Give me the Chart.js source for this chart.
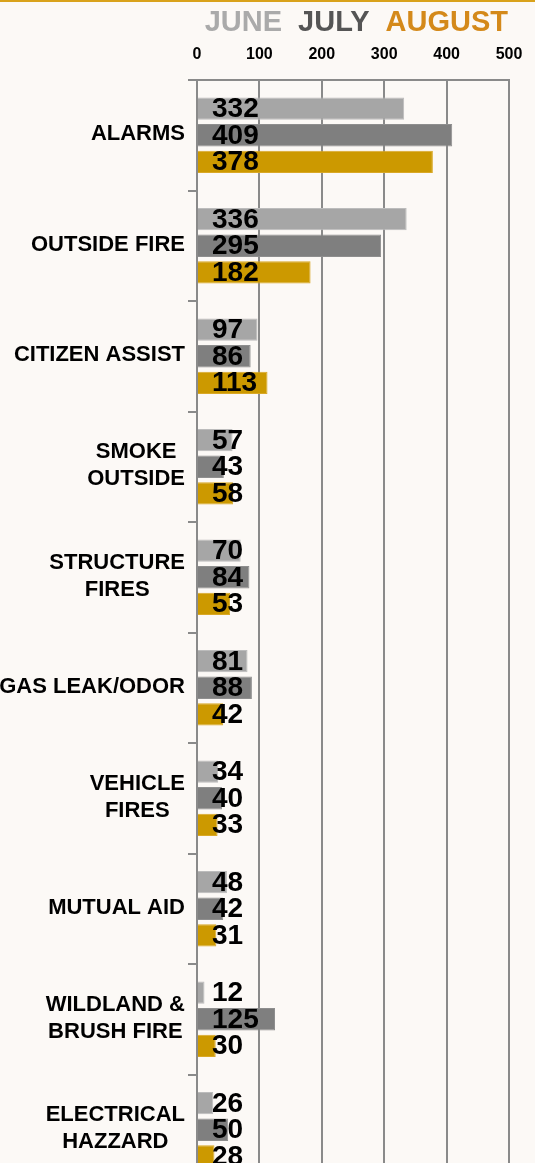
<!DOCTYPE html>
<html>
<head>
<meta charset="utf-8">
<script src="https://cdn.jsdelivr.net/npm/chart.js@4"></script>
<style>
    html, body { margin: 0; padding: 0; background: #fcf9f6; overflow: hidden; }
    #wrap { position: relative; width: 535px; height: 1185px; border-top: 2px solid #d9a21b; box-sizing: border-box; }
    #legend { position: absolute; top: 5px; right: 27px; font: bold 29px "Liberation Sans", Arial, sans-serif; line-height: 29px; white-space: nowrap; }
    #legend span { margin-left: 16px; }
    canvas { position: absolute; left: 0; top: 0; }
</style>
</head>
<body>
<div id="wrap">
    <canvas id="grafico" width="535" height="1183"></canvas>
    <div id="legend">
        <span style="color:#aaaaaa">JUNE</span><span style="color:#555555">JULY</span><span style="color:#d4891a">AUGUST</span>
    </div>
</div>
<script>
const categories = [
    ['ALARMS'],
    ['OUTSIDE FIRE'],
    ['CITIZEN ASSIST'],
    ['SMOKE', 'OUTSIDE'],
    ['STRUCTURE', 'FIRES'],
    ['GAS LEAK/ODOR'],
    ['VEHICLE', 'FIRES'],
    ['MUTUAL AID'],
    ['WILDLAND &', 'BRUSH FIRE'],
    ['ELECTRICAL', 'HAZZARD']
];
const june = [332, 336, 97, 57, 70, 81, 34, 48, 12, 26];
const july = [409, 295, 86, 43, 84, 88, 40, 42, 125, 50];
const august = [378, 182, 113, 58, 53, 42, 33, 31, 30, 28];
const xTicks = [0, 100, 200, 300, 400, 500];

const fontFamily = '"Liberation Sans", Arial, sans-serif';

// etiquetas das categorias (linhas centradas, bloco alinhado à direita)
const categoryLabels = {
    id: 'categoryLabels',
    afterDraw(chart) {
        const ctx = chart.ctx;
        const yScale = chart.scales.y;
        ctx.save();
        ctx.font = 'bold 22px ' + fontFamily;
        ctx.fillStyle = '#000';
        ctx.textAlign = 'center';
        ctx.textBaseline = 'middle';
        categories.forEach(function (lines, i) {
            const y = yScale.getPixelForValue(i) - 1;
            const w = Math.max.apply(null, lines.map(l => ctx.measureText(l).width));
            const cx = 185 - w / 2;
            const lh = 27;
            lines.forEach(function (line, k) {
                ctx.fillText(line, cx, y + (k - (lines.length - 1) / 2) * lh);
            });
        });
        ctx.restore();
    }
};

// valores em cima das barras
const valueLabels = {
    id: 'valueLabels',
    afterDatasetsDraw(chart) {
        const ctx = chart.ctx;
        const x0 = chart.scales.x.getPixelForValue(0);
        ctx.save();
        ctx.font = 'bold 28px ' + fontFamily;
        ctx.fillStyle = '#000';
        ctx.textAlign = 'left';
        ctx.textBaseline = 'middle';
        chart.data.datasets.forEach(function (ds, d) {
            const meta = chart.getDatasetMeta(d);
            meta.data.forEach(function (bar, i) {
                ctx.fillText(String(ds.data[i]), x0 + 15, bar.y + 1);
            });
        });
        ctx.restore();
    }
};

new Chart(document.getElementById('grafico'), {
    type: 'bar',
    data: {
        labels: categories.map(c => c.join(' ')),
        datasets: [
            { label: 'JUNE', data: june, backgroundColor: '#a6a6a6', borderColor: '#bcbcbc', borderWidth: 1 },
            { label: 'JULY', data: july, backgroundColor: '#7f7f7f', borderColor: '#8e8e8e', borderWidth: 1 },
            { label: 'AUGUST', data: august, backgroundColor: '#cc9900', borderColor: '#d9a826', borderWidth: 1 }
        ]
    },
    options: {
        indexAxis: 'y',
        responsive: false,
        animation: false,
        categoryPercentage: 0.72,
        barPercentage: 0.84,
        layout: { padding: { top: 40, right: 26, left: 0, bottom: 0 } },
        plugins: {
            legend: { display: false },
            tooltip: { enabled: false }
        },
        scales: {
            x: {
                position: 'top',
                min: 0,
                max: 500,
                afterBuildTicks: function (axis) {
                    axis.ticks = xTicks.map(v => ({ value: v }));
                },
                afterFit: function (axis) {
                    axis.height = 38;
                    axis.paddingLeft = 0;
                    axis.paddingRight = 0;
                },
                ticks: {
                    color: '#000',
                    font: { family: fontFamily, size: 16, weight: 'bold' },
                    padding: 16
                },
                grid: { color: '#8a8a8a', lineWidth: 2, drawTicks: false },
                border: { display: true, color: '#8a8a8a', width: 2 }
            },
            y: {
                afterFit: function (axis) { axis.width = 197; },
                ticks: { display: false },
                grid: { offset: true, drawOnChartArea: false, tickLength: 9, color: '#8a8a8a', lineWidth: 2 },
                border: { display: true, color: '#8a8a8a', width: 2 }
            }
        }
    },
    plugins: [categoryLabels, valueLabels]
});
</script>
</body>
</html>
